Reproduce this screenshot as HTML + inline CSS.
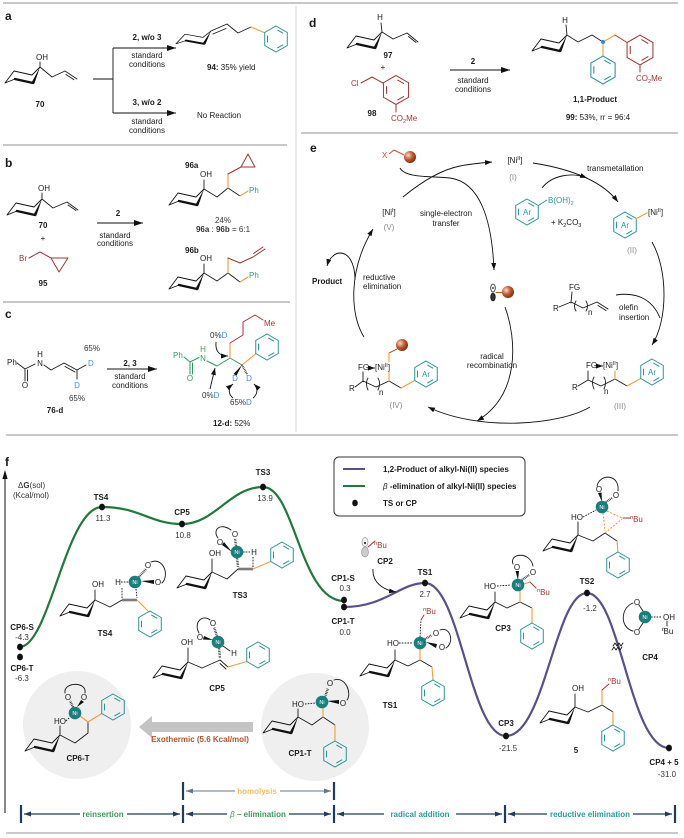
<!DOCTYPE html>
<html><head><meta charset="utf-8">
<style>
html,body{margin:0;padding:0;background:#fff;width:684px;height:838px;overflow:hidden}
svg{display:block}
text{font-family:"Liberation Sans",Arial,sans-serif;font-size:8px;fill:#1a1a1a}
.b{font-weight:bold}
.L{font-weight:bold;font-size:12px}
.m{text-anchor:middle}
.g{fill:#8a8a8a}
.n{fill:#333}
.t{fill:#2a9696}
.r{fill:#a33434}
.o{fill:#c4522a}
.d{fill:#3b8ee8}
.gr{fill:#2e9a5c}
.nit{fill:#fff;font-size:5.5px;text-anchor:middle}
.k{fill:none;stroke:#1a1a1a;stroke-width:0.9;stroke-linejoin:round;stroke-linecap:round}
.ko{fill:none;stroke:#f39c32;stroke-width:1.1;stroke-linecap:round}
.kod{fill:none;stroke:#f39c32;stroke-width:1.1;stroke-dasharray:2 1.5}
.kr{fill:none;stroke:#a33434;stroke-width:1;stroke-linecap:round;stroke-linejoin:round}
.kt{fill:none;stroke:#2a9696;stroke-width:1}
.kg{fill:none;stroke:#2e9a5c;stroke-width:1;stroke-linecap:round;stroke-linejoin:round}
.dsh{fill:none;stroke:#1a1a1a;stroke-width:0.9;stroke-dasharray:1.6 1.2}
.hsh{fill:none;stroke:#1a1a1a;stroke-width:2.4;stroke-dasharray:0.7 0.9}
.ar{fill:none;stroke:#111;stroke-width:0.9}
.sep{stroke:#b5b5b5;stroke-width:1.4}
.nv{stroke:#1f3a5f;stroke-width:1.2;fill:none}
.nvb{stroke:#1f3a5f;stroke-width:2.2}
.gb{stroke:#7d92a8;stroke-width:1.2;fill:none}
</style></head><body>
<svg width="684" height="838" viewBox="0 0 684 838" xmlns="http://www.w3.org/2000/svg">
<defs>
<marker id="ah" markerWidth="9" markerHeight="6" refX="9" refY="3" orient="auto" markerUnits="userSpaceOnUse"><path d="M0,0 L9,3 L0,6 Z" fill="#111"/></marker>
<marker id="as" markerWidth="7" markerHeight="5" refX="7" refY="2.5" orient="auto" markerUnits="userSpaceOnUse"><path d="M0,0 L7,2.5 L0,5 Z" fill="#111"/></marker>
<marker id="an" markerWidth="7" markerHeight="5" refX="7" refY="2.5" orient="auto" markerUnits="userSpaceOnUse"><path d="M0,0 L7,2.5 L0,5 Z" fill="#1f3a5f"/></marker>
<marker id="ag" markerWidth="7" markerHeight="5" refX="7" refY="2.5" orient="auto" markerUnits="userSpaceOnUse"><path d="M0,0 L7,2.5 L0,5 Z" fill="#5f7892"/></marker>
<radialGradient id="bg" cx="35%" cy="35%" r="65%"><stop offset="0" stop-color="#f7dccf"/><stop offset="0.55" stop-color="#c45a30"/><stop offset="1" stop-color="#8a3212"/></radialGradient>
<g id="ch">
<path d="M0,0 L-8,8 L-26,4 L-35,16 L-25,12" fill="none" stroke="#111" stroke-width="0.9" stroke-linejoin="round"/>
<path d="M0,0 L-5.6,16.6 L-8.3,15.4 Z" fill="#111"/>
<path d="M-7,16 L-25,12" stroke="#111" stroke-width="2.4" stroke-linecap="round"/>
</g>
<g id="ph">
<polygon points="0,-13 11.26,-6.5 11.26,6.5 0,13 -11.26,6.5 -11.26,-6.5"/>
<path d="M1.27,-9.07 L7.22,-5.63 M7.22,5.63 L1.27,9.07 M-8.49,3.43 L-8.49,-3.43"/>
</g>
</defs>
<rect width="684" height="838" fill="#fff"/>

<!-- frame lines -->
<line x1="3" y1="3" x2="678" y2="3" class="sep"/>
<line x1="296" y1="6" x2="296" y2="432" stroke="#dcdcdc" stroke-width="1.2"/>
<line x1="3" y1="145" x2="287" y2="145" class="sep"/>
<line x1="3" y1="302" x2="290" y2="302" class="sep"/>
<line x1="301" y1="133" x2="678" y2="133" class="sep"/>
<line x1="6" y1="435" x2="678" y2="435" class="sep"/>
<line x1="6" y1="833" x2="678" y2="833" class="sep"/>

<!-- ============ PANEL A ============ -->
<text x="5" y="20" class="L">a</text>
<use href="#ch" x="40" y="67"/>
<path class="k" d="M40,67 L40,62 M40,67 L52,77 L65,71 L77,79 M66,74.5 L74,79.8"/>
<text x="42" y="60" class="m">OH</text>
<text x="40" y="107" class="b m">70</text>
<path class="ar" d="M93,79 H113 M113,48 V113"/>
<path class="ar" d="M113,48 H176" marker-end="url(#ah)"/>
<path class="ar" d="M113,113 H176" marker-end="url(#ah)"/>
<text x="147" y="40" class="b m">2, w/o 3</text>
<text x="147" y="58" class="m">standard</text>
<text x="147" y="67" class="m">conditions</text>
<text x="147" y="105" class="b m">3, w/o 2</text>
<text x="147" y="124" class="m">standard</text>
<text x="147" y="133" class="m">conditions</text>
<use href="#ch" transform="translate(211,31) scale(1,0.8)"/>
<path class="k" d="M211,31 L227,24 M213,34 L226,28.5 M227,24 L238,33 L251,27"/>
<path class="ko" d="M251,27 L264,32.5"/>
<use href="#ph" x="276" y="39" class="kt"/>
<text x="207" y="70"><tspan class="b">94:</tspan> 35% yield</text>
<text x="197" y="118">No Reaction</text>

<!-- ============ PANEL B ============ -->
<text x="5" y="167" class="L">b</text>
<use href="#ch" x="42" y="199"/>
<path class="k" d="M42,199 L42,193 M42,199 L53,208 L67,202 L78,210 M68,205 L76,210.5"/>
<text x="44" y="191" class="m">OH</text>
<text x="43" y="228" class="b m">70</text>
<text x="43" y="241" class="m">+</text>
<text x="19" y="261" class="r">Br</text>
<path class="kr" d="M29,258 L40,252 L51,258 M51,258 L68,258 L59,272 Z"/>
<text x="43" y="286" class="b m">95</text>
<path class="ar" d="M97,223 H143" marker-end="url(#ah)"/>
<text x="118" y="216" class="b m">2</text>
<text x="115" y="238" class="m">standard</text>
<text x="115" y="246" class="m">conditions</text>
<text x="185" y="168" class="b">96a</text>
<use href="#ch" x="204" y="189"/>
<path class="k" d="M204,189 L204,180 M204,189 L217,197 L228,188 L240,196"/>
<text x="206" y="177" class="m">OH</text>
<path class="ko" d="M228,188 L228,174 M240,196 L248,191"/>
<path class="kr" d="M228,174 L241,167 M241,167 L248,154 L255,167 Z"/>
<text x="249" y="193" class="t">Ph</text>
<text x="223" y="223" class="m n">24%</text>
<text x="223" y="232" class="m n"><tspan class="b">96a</tspan> : <tspan class="b">96b</tspan> = 6:1</text>
<text x="185" y="253" class="b">96b</text>
<use href="#ch" x="204" y="273"/>
<path class="k" d="M204,273 L204,264 M204,273 L217,281 L228,273 L240,282"/>
<text x="206" y="261" class="m">OH</text>
<path class="ko" d="M228,273 L228,258 M240,282 L248,277"/>
<path class="kr" d="M228,258 L240,263 L253,257 L265,249 M253.5,253.5 L263,247"/>
<text x="249" y="278" class="t">Ph</text>

<!-- ============ PANEL C ============ -->
<text x="5" y="318" class="L">c</text>
<text x="7" y="365">Ph</text>
<path class="k" d="M17,363 L25,369 L35,364 M25,369 L25,381 M27.5,370 L27.5,381 M44,365 L51,370 L64,363 L77,370 M65,366.5 L75,372 M77,370 L86,365 M77,370 L77,379"/>
<text x="25" y="388" class="m">O</text>
<text x="40" y="366" class="m">N</text>
<text x="40" y="357" class="m">H</text>
<text x="88" y="366" class="d">D</text>
<text x="77" y="388" class="m d">D</text>
<text x="92" y="351" class="m n">65%</text>
<text x="77" y="401" class="m n">65%</text>
<text x="55" y="413" class="b m">76-d</text>
<path class="ar" d="M107,369 H157" marker-end="url(#ah)"/>
<text x="130" y="366" class="b m">2, 3</text>
<text x="130" y="379" class="m">standard</text>
<text x="130" y="388" class="m">conditions</text>
<text x="173" y="358" class="gr">Ph</text>
<path class="kg" d="M184,357 L190,362 L199,357.5 M190,362 L190,374 M192.5,363 L192.5,374 M207,361 L217,366 L230,358 L242,365"/>
<text x="190" y="381" class="m gr">O</text>
<text x="203" y="361" class="m gr">N</text>
<text x="203" y="352" class="m gr">H</text>
<path class="ko" d="M230,358 L230,343 M242,365 L255.5,354"/>
<path class="kr" d="M230,343 L243,335 L243,322 L255,315 L263,320"/>
<text x="264" y="326" class="r">Me</text>
<use href="#ph" x="267" y="347" class="kt"/>
<path d="M242,365 L233.5,374 L236.5,375.5 Z" fill="#111"/>
<path class="hsh" d="M242,365 L247,374" style="stroke-width:2"/>
<text x="235" y="381" class="m d">D</text>
<text x="249" y="381" class="m d">D</text>
<text x="210" y="338" class="n">0%<tspan class="d">D</tspan></text>
<path class="ar" d="M216,342 C215,352 220,356 228,356" marker-end="url(#as)"/>
<text x="202" y="398" class="n">0%<tspan class="d">D</tspan></text>
<path class="ar" d="M210,389 L215,368" marker-end="url(#as)"/>
<text x="230" y="405" class="n">65%<tspan class="d">D</tspan></text>
<path class="ar" d="M233,398 C228,394 228,388 233,384" marker-end="url(#as)"/>
<path class="ar" d="M253,398 C258,394 258,388 254,384" marker-end="url(#as)"/>
<text x="213" y="426"><tspan class="b">12-d:</tspan> 52%</text>

<!-- ============ PANEL D ============ -->
<text x="309" y="27" class="L">d</text>
<use href="#ch" x="382" y="32"/>
<path class="k" d="M382,32 L381,23 M382,32 L393,39 L407,33 L418,42 M408.5,36.5 L416,42.5"/>
<text x="380" y="20" class="m">H</text>
<text x="388" y="58" class="b m">97</text>
<text x="383" y="70" class="m">+</text>
<text x="351" y="86" class="r">Cl</text>
<path class="kr" d="M361,83 L372,77 L383,83 M396,105 L396,112"/>
<use href="#ph" transform="translate(396,90) scale(1.115)" style="fill:none;stroke:#a33434;stroke-width:0.9"/>
<text x="391" y="121" class="r">CO<tspan font-size="5.5" dy="2">2</tspan><tspan dy="-2">Me</tspan></text>
<text x="372" y="116" class="b m">98</text>
<path class="ar" d="M450,70 H510" marker-end="url(#ah)"/>
<text x="473" y="64" class="b m">2</text>
<text x="473" y="83" class="m">standard</text>
<text x="473" y="92" class="m">conditions</text>
<use href="#ch" x="567" y="35"/>
<path class="k" d="M567,35 L566,25 M567,35 L578,42 L592,35 L603,42"/>
<text x="565" y="23" class="m">H</text>
<path class="ko" d="M603,42 L615,35 M603,42 L603,56"/>
<path class="kr" d="M615,35 L627,42.5 M640,65 L640,72"/>
<circle cx="603" cy="42" r="2" fill="#2f86e6"/>
<use href="#ph" transform="translate(603,70) scale(1.077)" class="kt"/>
<use href="#ph" transform="translate(640,50) scale(1.15)" style="fill:none;stroke:#a33434;stroke-width:0.9"/>
<text x="636" y="81" class="r">CO<tspan font-size="5.5" dy="2">2</tspan><tspan dy="-2">Me</tspan></text>
<text x="595" y="102" class="b m">1,1-Product</text>
<text x="598" y="120" class="m"><tspan class="b">99:</tspan> 53%, rr = 96:4</text>

<!-- ============ PANEL E ============ -->
<text x="310" y="152" class="L">e</text>
<text x="382" y="158" class="o">X</text>
<path d="M389,154 L394,150 L404,155" fill="none" stroke="#c4522a" stroke-width="1"/>
<circle cx="410" cy="157" r="6" fill="url(#bg)"/>
<text x="515" y="163" class="m">[Ni<tspan dy="-3" font-size="5.5">II</tspan><tspan dy="3">]</tspan></text>
<text x="513" y="180" class="m g">(I)</text>
<text x="587" y="171">transmetallation</text>
<use href="#ph" x="527" y="212" class="kt"/>
<text x="527" y="215" class="m t" font-size="7">Ar</text>
<path class="kt" d="M538.3,205.5 L547,200"/>
<text x="548" y="203" class="t">B(OH)<tspan font-size="5.5" dy="2">2</tspan></text>
<text x="551" y="225">+  K<tspan font-size="5.5" dy="2">2</tspan><tspan dy="-2">CO</tspan><tspan font-size="5.5" dy="2">3</tspan></text>
<use href="#ph" x="625" y="225" class="kt"/>
<text x="625" y="228" class="m t" font-size="7">Ar</text>
<path class="ko" d="M636.3,218.5 L647,213"/>
<text x="648" y="215">[Ni<tspan dy="-3" font-size="5.5">II</tspan><tspan dy="3">]</tspan></text>
<text x="632" y="253" class="m g">(II)</text>
<text x="389" y="215" class="m">[Ni<tspan dy="-3" font-size="5.5">I</tspan><tspan dy="3">]</tspan></text>
<text x="389" y="230" class="m g">(V)</text>
<text x="446" y="216" class="m">single-electron</text>
<text x="446" y="226" class="m">transfer</text>
<text x="363" y="280">reductive</text>
<text x="363" y="289">elimination</text>
<text x="312" y="284" class="b">Product</text>
<!-- radical -->
<ellipse cx="493" cy="288" rx="2.3" ry="4" fill="#fff" stroke="#222" stroke-width="0.8"/>
<ellipse cx="493" cy="297" rx="2.3" ry="4" fill="#333" stroke="#222" stroke-width="0.8"/>
<circle cx="493" cy="288" r="0.9" fill="#111"/>
<path d="M495.5,292.5 L503,292.5" stroke="#c4522a" stroke-width="1"/>
<circle cx="508" cy="292" r="6" fill="url(#bg)"/>
<!-- olefin -->
<text x="569" y="290">FG</text>
<path class="k" d="M572,292 L571,303 M559,307 L571,302 L583,308 L597,302 L608,309 M598,305.5 L606,310.5"/>
<path class="k" d="M576,301 C574,304 574,308 576,311 M586,301 C588,304 588,308 586,311"/>
<text x="553" y="311">R</text>
<text x="588" y="315" font-size="6">n</text>
<text x="619" y="310">olefin</text>
<text x="619" y="320">insertion</text>
<!-- III -->
<text x="586" y="368">FG</text>
<path class="ar" d="M596,366 L603,366" marker-end="url(#as)"/>
<text x="603" y="368">[Ni<tspan dy="-3" font-size="5.5">II</tspan><tspan dy="3">]</tspan></text>
<text x="572" y="390">R</text>
<path class="k" d="M578,386 L588,380 L601,386 L615,379 L627,386 M588,380 L588,371"/>
<path class="k" d="M594,377 C592,380 592,385 594,389 M604,377 C606,380 606,385 604,389"/>
<text x="604" y="394" font-size="6">n</text>
<path class="ko" d="M615,379 L615,371 M627,386 L640.7,378.5"/>
<use href="#ph" x="652" y="372" class="kt"/>
<text x="652" y="375" class="m t" font-size="7">Ar</text>
<text x="620" y="409" class="m g">(III)</text>
<!-- IV -->
<circle cx="402" cy="345" r="6" fill="url(#bg)"/>
<path d="M397,349 L389,353" stroke="#c4522a" stroke-width="1"/>
<path class="ko" d="M389,353 L389,362"/>
<text x="358" y="370">FG</text>
<path class="ar" d="M368,368 L375,368" marker-end="url(#as)"/>
<text x="375" y="370">[Ni<tspan dy="-3" font-size="5.5">II</tspan><tspan dy="3">]</tspan></text>
<text x="349" y="391">R</text>
<path class="k" d="M355,387 L363,381 L376,387 L389,381 L401,388 M363,381 L363,372"/>
<path class="k" d="M368,378 C366,381 366,386 368,390 M378,378 C380,381 380,386 378,390"/>
<text x="379" y="395" font-size="6">n</text>
<path class="ko" d="M389,381 L389,372 M401,388 L414.7,380.5"/>
<use href="#ph" x="426" y="374" class="kt"/>
<text x="426" y="377" class="m t" font-size="7">Ar</text>
<text x="396" y="408" class="m g">(IV)</text>
<text x="492" y="359" class="m">radical</text>
<text x="492" y="368" class="m">recombination</text>
<!-- cycle arrows -->
<path class="ar" d="M400,168 C405,178 430,176 450,178 C480,182 492,220 494,270" marker-end="url(#as)"/>
<path class="ar" d="M403,197 C420,183 440,170 460,166 C470,164 480,163 492,162" marker-end="url(#as)"/>
<path class="ar" d="M533,163 C565,168 600,178 618,202" marker-end="url(#as)"/>
<path class="ar" d="M542,188 C552,175 572,172 587,178" marker-end="url(#as)"/>
<path class="ar" d="M652,242 C668,270 668,320 652,345" marker-end="url(#as)"/>
<path class="ar" d="M616,295 C635,292 652,298 660,318"/>
<path class="ar" d="M590,407 C560,425 480,432 428,407" marker-end="url(#as)"/>
<path class="ar" d="M505,307 C517,340 520,395 477,421" marker-end="url(#as)"/>
<path class="ar" d="M364,337 C350,315 348,270 373,229" marker-end="url(#as)"/>
<path class="ar" d="M355,280 C355,262 348,253 340,253 C334,253 329,259 327,266" marker-end="url(#as)"/>

<!-- ============ PANEL F ============ -->
<text x="5" y="466" class="L">f</text>
<line x1="5" y1="477" x2="5" y2="813" stroke="#111" stroke-width="1"/>
<polygon points="5,470 2.4,479 7.6,479" fill="#111"/>
<text x="18" y="488" class="n">Δ<tspan class="b">G</tspan>(sol)</text>
<text x="13" y="498" class="n">(Kcal/mol)</text>

<!-- gray circles -->
<circle cx="77" cy="725" r="54" fill="#efefef"/>
<circle cx="315" cy="727" r="54" fill="#efefef"/>

<!-- legend -->
<rect x="334" y="457" width="191" height="59" rx="5" fill="#fff" stroke="#333" stroke-width="1"/>
<line x1="343" y1="469" x2="365" y2="469" stroke="#5b4e8e" stroke-width="2"/>
<text x="383" y="472" class="b">1,2-Product of alkyl-Ni(II) species</text>
<line x1="343" y1="486" x2="365" y2="486" stroke="#1e7b3c" stroke-width="2"/>
<text x="383" y="489" class="b"><tspan font-style="italic" font-weight="normal">β</tspan> -elimination of alkyl-Ni(II) species</text>
<ellipse cx="355" cy="503" rx="2.8" ry="3.3" fill="#111"/>
<text x="383" y="506" class="b">TS or CP</text>

<!-- curves -->
<path d="M20,647 C50,645 66,507 102,507 C140,507 150,524 182,524 C215,524 230,487 263,487 C295,487 300,601 344,601" fill="none" stroke="#1e7b3c" stroke-width="2.2"/>
<path d="M344,607 C385,607 400,583 425,583 C460,583 470,736 506,736 C545,736 555,593 587,593 C620,593 630,748 669,748" fill="none" stroke="#5b4e8e" stroke-width="2.2"/>
<g fill="#111">
<ellipse cx="20" cy="647" rx="3" ry="3.4"/><ellipse cx="20" cy="657" rx="3" ry="3.4"/>
<ellipse cx="102" cy="507" rx="3" ry="3.4"/><ellipse cx="182" cy="524" rx="3" ry="3.4"/>
<ellipse cx="263" cy="487" rx="3" ry="3.4"/><ellipse cx="344" cy="600" rx="3" ry="3.4"/>
<ellipse cx="344" cy="607" rx="3" ry="3.4"/><ellipse cx="425" cy="583" rx="3" ry="3.4"/>
<ellipse cx="506" cy="736" rx="3" ry="3.4"/><ellipse cx="587" cy="593" rx="3" ry="3.4"/>
<ellipse cx="669" cy="748" rx="3" ry="3.4"/>
</g>
<!-- energy labels -->
<text x="101" y="500" class="b m">TS4</text><text x="103" y="521" class="m n">11.3</text>
<text x="182" y="515" class="b m">CP5</text><text x="183" y="538" class="m n">10.8</text>
<text x="263" y="475" class="b m">TS3</text><text x="265" y="501" class="m n">13.9</text>
<text x="22" y="630" class="b m">CP6-S</text><text x="22" y="640" class="m n">-4.3</text>
<text x="22" y="671" class="b m">CP6-T</text><text x="22" y="681" class="m n">-6.3</text>
<text x="343" y="581" class="b m">CP1-S</text><text x="345" y="591" class="m n">0.3</text>
<text x="343" y="624" class="b m">CP1-T</text><text x="345" y="635" class="m n">0.0</text>
<text x="425" y="575" class="b m">TS1</text><text x="425" y="597" class="m n">2.7</text>
<text x="587" y="584" class="b m">TS2</text><text x="590" y="611" class="m n">-1.2</text>
<text x="506" y="726" class="b m">CP3</text><text x="508" y="751" class="m n">-21.5</text>
<text x="664" y="765" class="b m">CP4 + 5</text><text x="667" y="777" class="m n">-31.0</text>

<!-- TS4 structure -->
<use href="#ch" x="95" y="600"/>
<path class="k" d="M95,600 V590 M95,600 L110,607 L122,600"/>
<text x="98" y="587" class="m">OH</text>
<path d="M122,600 H137" stroke="#7a7a7a" stroke-width="2.6"/>
<text x="118" y="585" class="m">H</text>
<path class="dsh" d="M121,582 H129 M122,598 V587 M136,589 L137,598"/>
<path class="hsh" d="M139,577 L146,569"/>
<path d="M141,581 L154,580 L154,584 Z" fill="#111"/>
<circle cx="135" cy="582" r="6.3" fill="#17807e"/><text x="135" y="584" class="nit">Ni</text>
<text x="148" y="568" class="m">O</text>
<text x="158" y="585" class="m">O</text>
<path class="k" d="M151,562 C163,557 170,575 162,583"/>
<path class="ko" d="M137,600 L148,611"/>
<use href="#ph" x="150" y="624" class="kt"/>
<text x="105" y="636" class="b m">TS4</text>

<!-- TS3 structure -->
<use href="#ch" x="212" y="572"/>
<path class="k" d="M212,572 V559 M212,572 L227,579 L238,569"/>
<text x="215" y="556" class="m">OH</text>
<path d="M238,569 H253" stroke="#7a7a7a" stroke-width="2.6"/>
<path class="ko" d="M253,569 L270.7,561.5"/>
<use href="#ph" x="282" y="555" class="kt"/>
<path class="dsh" d="M243,552 H250 M253,557 V567"/>
<path class="hsh" d="M237,558 L238,567"/>
<path class="hsh" d="M236,546 L235,538"/>
<path d="M232,552 L224,542 L222,545 Z" fill="#111"/>
<circle cx="237" cy="552" r="6.3" fill="#17807e"/><text x="237" y="554" class="nit">Ni</text>
<text x="254" y="555" class="m">H</text>
<text x="235" y="537" class="m">O</text>
<text x="220" y="545" class="m">O</text>
<path class="k" d="M218,538 C212,530 220,522 231,530"/>
<text x="240" y="598" class="b m">TS3</text>

<!-- CP5 structure -->
<use href="#ch" x="188" y="662"/>
<path class="k" d="M188,662 V648 M188,662 L202,668 L220,660 L228,667 M220,663.5 L226,669"/>
<text x="187" y="645" class="m">OH</text>
<path class="hsh" d="M219,648 L220,658"/>
<path class="hsh" d="M217,636 L214,627"/>
<path d="M213,640 L204,636 L203,639.5 Z" fill="#111"/>
<path class="k" d="M223,646 L230,651"/>
<circle cx="218" cy="642" r="6.3" fill="#17807e"/><text x="218" y="644" class="nit">Ni</text>
<text x="234" y="656" class="m">H</text>
<text x="213" y="626" class="m">O</text>
<text x="200" y="640" class="m">O</text>
<path class="k" d="M199,633 C193,622 203,614 210,620"/>
<path class="ko" d="M228,667 L246.7,661.5"/>
<use href="#ph" x="258" y="655" class="kt"/>
<text x="217" y="691" class="b m">CP5</text>

<!-- big gray arrow -->
<polygon points="253,722 152,722 152,716 139,727 152,738 152,732 253,732" fill="#c4c4c4"/>
<text x="200" y="742" class="b m" style="fill:#b5522b">Exothermic (5.6 Kcal/mol)</text>

<!-- CP6-T structure -->
<use href="#ch" x="60" y="735"/>
<path class="k" d="M60,735 V726 M60,735 L75,743 L88,733 L88,722"/>
<text x="54" y="724">HO</text>
<path class="dsh" d="M66,721 L70,717"/>
<path class="hsh" d="M73,707 L70,701"/>
<path d="M77,707 L81,700 L84,702 Z" fill="#111"/>
<path class="ko" d="M88,722 L80,716 M88,722 L101.7,713.5"/>
<circle cx="75" cy="713" r="6.3" fill="#17807e"/><text x="75" y="715" class="nit">Ni</text>
<text x="68" y="700" class="m">O</text>
<text x="84" y="700" class="m">O</text>
<path class="k" d="M65,693 C63,682 87,681 85,693"/>
<use href="#ph" x="113" y="707" class="kt"/>
<text x="78" y="761" class="b m">CP6-T</text>

<!-- CP1-T structure -->
<use href="#ch" x="298" y="717"/>
<path class="k" d="M298,717 V709 M298,717 L312,725 L323,717 L335,725"/>
<text x="292" y="707">HO</text>
<path class="dsh" d="M305,704 L316,703"/>
<path class="ko" d="M323,717 L323,708 M335,725 L335,741"/>
<path class="hsh" d="M325,697 L328,688"/>
<path d="M327,701 L339,700 L339,704 Z" fill="#111"/>
<circle cx="322" cy="702" r="6.3" fill="#17807e"/><text x="322" y="704" class="nit">Ni</text>
<text x="330" y="686" class="m">O</text>
<text x="343" y="706" class="m">O</text>
<path class="k" d="M334,680 C346,676 352,694 347,700"/>
<use href="#ph" x="335" y="754" class="kt"/>
<text x="300" y="756" class="b m">CP1-T</text>

<!-- CP2 -->
<ellipse cx="365" cy="542" rx="3" ry="4.5" fill="#eee" stroke="#999" stroke-width="0.7"/>
<ellipse cx="365" cy="552" rx="3.4" ry="5" fill="#ccc" stroke="#999" stroke-width="0.7"/>
<circle cx="365" cy="543" r="1" fill="#111"/>
<path class="kr" d="M368,547 L375,541"/>
<text x="374" y="548" class="r"><tspan font-style="italic" font-size="5.5" dy="-3">n</tspan><tspan dy="3">Bu</tspan></text>
<text x="385" y="564" class="b m">CP2</text>
<path class="ar" d="M373,569 C372,582 383,590 396,592" marker-end="url(#as)"/>

<!-- TS1 structure -->
<use href="#ch" x="395" y="660"/>
<path class="k" d="M395,660 V650 M395,660 L408,666 L420,660 L432,667"/>
<text x="387" y="646">HO</text>
<path class="dsh" d="M399,643 L413,643 M420,637 L421,620"/>
<path class="kr" d="M421,620 L424,615"/>
<text x="423" y="614" class="r"><tspan font-style="italic" font-size="5.5" dy="-3">n</tspan><tspan dy="3">Bu</tspan></text>
<path class="ko" d="M420,660 L420,649 M432,667 L433,680"/>
<path class="hsh" d="M425,639 L432,635"/>
<path d="M426,642 L437,644 L436,648 Z" fill="#111"/>
<circle cx="420" cy="643" r="6.3" fill="#17807e"/><text x="420" y="645" class="nit">Ni</text>
<text x="436" y="636" class="m">O</text>
<text x="442" y="650" class="m">O</text>
<path class="k" d="M440,630 C450,626 455,642 446,648"/>
<use href="#ph" x="433" y="693" class="kt"/>
<text x="390" y="708" class="b m">TS1</text>

<!-- CP3 structure -->
<use href="#ch" x="495" y="602"/>
<path class="k" d="M495,602 V592 M495,602 L507,608 L520,602 L532,608"/>
<text x="484" y="589">HO</text>
<path class="dsh" d="M497,586 L511,585"/>
<path class="ko" d="M520,602 L520,591 M532,608 L532,623 M524,584 L530,582"/>
<path class="kr" d="M530,582 L536,588"/>
<text x="537" y="595" class="r"><tspan font-style="italic" font-size="5.5" dy="-3">n</tspan><tspan dy="3">Bu</tspan></text>
<path d="M518,580 L515.5,571 L519,571 Z" fill="#111"/>
<path class="hsh" d="M522,580 L529,575"/>
<circle cx="518" cy="585" r="6.3" fill="#17807e"/><text x="518" y="587" class="nit">Ni</text>
<text x="517" y="570" class="m">O</text>
<text x="533" y="575" class="m">O</text>
<path class="k" d="M513,564 C509,553 530,551 533,566"/>
<use href="#ph" x="532" y="636" class="kt"/>
<text x="503" y="631" class="b m">CP3</text>

<!-- TS2 structure -->
<use href="#ch" x="578" y="535"/>
<path class="k" d="M578,535 V522 M578,535 L593,541 L605,533 L617,541"/>
<text x="571" y="520">HO</text>
<path class="dsh" d="M583,517 L596,510"/>
<path class="ko" d="M617,541 L618,552"/>
<path class="kod" d="M603,513 L605,531 M607,511 L622,518 M605,533 L622,519"/>
<path class="kr" d="M623,518 L630,518"/>
<text x="630" y="522" class="r"><tspan font-style="italic" font-size="5.5" dy="-3">n</tspan><tspan dy="3">Bu</tspan></text>
<path d="M602,502 L598,493 L601.5,492.5 Z" fill="#111"/>
<path class="hsh" d="M606,502 L612,498"/>
<circle cx="602" cy="507" r="6.3" fill="#17807e"/><text x="602" y="509" class="nit">Ni</text>
<text x="599" y="492" class="m">O</text>
<text x="616" y="498" class="m">O</text>
<path class="k" d="M597,486 C600,473 620,474 618,491"/>
<use href="#ph" x="618" y="565" class="kt"/>

<!-- CP4 -->
<path class="k" d="M643,611 L639,605 M643,623 L639,629"/>
<path class="dsh" d="M651,617 L662,617"/>
<circle cx="645" cy="617" r="6.3" fill="#17807e"/><text x="645" y="619" class="nit">Ni</text>
<text x="637" y="605" class="m">O</text>
<text x="637" y="635" class="m">O</text>
<path class="k" d="M633,603 C620,608 620,628 633,631"/>
<text x="663" y="620">OH</text>
<path class="k" d="M667,621 L667,626"/>
<text x="662" y="634"><tspan font-style="italic" font-size="5.5" dy="-3">t</tspan><tspan dy="3">Bu</tspan></text>
<path class="k" d="M612,650 l2,-3 l2,3 l2,-3 l2,3 l2,-3 M613,646 l2,-3 l2,3 l2,-3 l2,3 l2,-3"/>
<text x="650" y="660" class="b m">CP4</text>

<!-- Product 5 -->
<use href="#ch" x="575" y="707"/>
<path class="k" d="M575,707 V694 M575,707 L588,712 L602,705 L613,712"/>
<text x="578" y="691" class="m">OH</text>
<path class="ko" d="M602,705 L602,690 M613,712 L613,725"/>
<path class="kr" d="M602,690 L609,684"/>
<text x="608" y="684" class="r"><tspan font-style="italic" font-size="5.5" dy="-3">n</tspan><tspan dy="3">Bu</tspan></text>
<use href="#ph" x="613" y="738" class="kt"/>
<text x="576" y="753" class="b m">5</text>

<!-- scale bars -->
<line x1="183" y1="782" x2="183" y2="800" class="nvb"/>
<line x1="334" y1="782" x2="334" y2="800" class="nvb"/>
<path class="gb" d="M235,791 H186" marker-end="url(#ag)"/>
<path class="gb" d="M280,791 H331" marker-end="url(#ag)"/>
<text x="257" y="794" class="b m" style="fill:#f3bf5a">homolysis</text>
<line x1="21" y1="805" x2="21" y2="823" class="nvb"/>
<line x1="183" y1="805" x2="183" y2="823" class="nvb"/>
<line x1="334" y1="805" x2="334" y2="823" class="nvb"/>
<line x1="505" y1="805" x2="505" y2="823" class="nvb"/>
<line x1="675" y1="805" x2="675" y2="823" class="nvb"/>
<path class="nv" d="M80,814 H24" marker-end="url(#an)"/>
<path class="nv" d="M127,814 H180" marker-end="url(#an)"/>
<text x="103" y="817" class="b m" style="fill:#3a9a5a">reinsertion</text>
<path class="nv" d="M227,814 H186" marker-end="url(#an)"/>
<path class="nv" d="M289,814 H331" marker-end="url(#an)"/>
<text x="258" y="817" class="b m" style="fill:#3a9a5a"><tspan font-style="italic" font-weight="normal">β</tspan> – elimination</text>
<path class="nv" d="M384,814 H337" marker-end="url(#an)"/>
<path class="nv" d="M456,814 H502" marker-end="url(#an)"/>
<text x="420" y="817" class="b m" style="fill:#2a9a9a">radical addition</text>
<path class="nv" d="M547,814 H508" marker-end="url(#an)"/>
<path class="nv" d="M633,814 H672" marker-end="url(#an)"/>
<text x="590" y="817" class="b m" style="fill:#2a9a9a">reductive elimination</text>
</svg>
</body></html>
